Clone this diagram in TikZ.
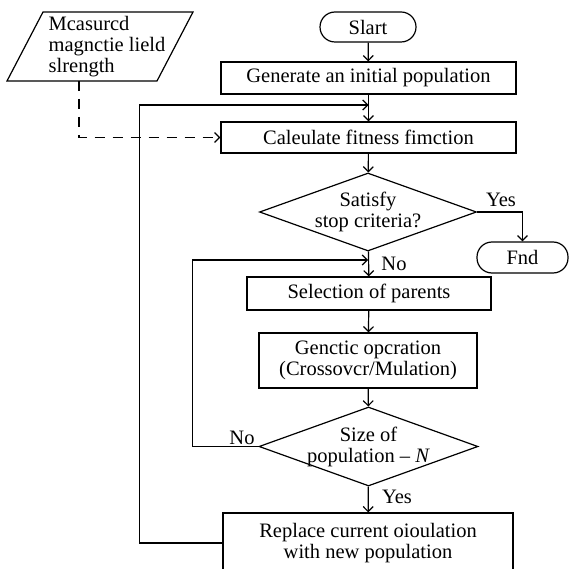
\documentclass[tikz,border=0pt]{standalone}
\usepackage{fontspec}
\setmainfont{Liberation Serif}
\usetikzlibrary{shapes.geometric,arrows.meta}

\begin{document}
\begin{tikzpicture}[x=1pt,y=-1pt,line width=1.2pt,
        font=\fontsize{20.5}{21}\selectfont,
        >={Straight Barb[length=5pt,width=10pt]},
        proc/.style={draw, rectangle, inner sep=0pt, align=center},
        term/.style={draw, rectangle, rounded corners=15pt, inner sep=0pt},
        dec/.style={draw, diamond, aspect=2.77, inner sep=-3pt, align=center},
        dashline/.style={dash pattern=on 10pt off 8pt}]
        % Picture frame (bottom box is cut off)
        \clip (0,0) rectangle (569,569);
        
        % Input (parallelogram)
        \coordinate (p1) at (43,12);
        \coordinate (p2) at (193,12);
        \coordinate (p3) at (157,81);
        \coordinate (p4) at (7,81);
        \draw (p1) -- (p2) -- (p3) -- (p4) -- cycle;
        \node[align=left] (meas) at (107,47) {Mcasurcd\\magnctie lield\\slrength};
        \coordinate (mtap) at (79,81);
        
        % Main column
        \node[term, minimum width=96pt, minimum height=30pt] (start) at (368,27) {Slart};
        \node[proc, minimum width=295pt, minimum height=32pt] (gen) at (368.5,78) {Generate an initial population};
        \node[proc, minimum width=295pt, minimum height=31pt] (calc) at (368.5,137.5) {Caleulate fitness fimction};
        \node[dec, minimum width=217pt, minimum height=78pt] (stop) at (368,212) {Satisfy\\stop criteria?};
        \node[term, minimum width=91pt, minimum height=31pt] (end) at (522.5,257.5) {Fnd};
        \node[proc, minimum width=244pt, minimum height=33pt] (sel) at (369,293.5) {Selection of parents};
        \node[proc, minimum width=218pt, minimum height=55pt] (gop) at (368,360.5) {Genctic opcration\\(Crossovcr/Mulation)};
        \node[dec, minimum width=219pt, minimum height=79pt] (size) at (368.5,446.5) {Size of\\population -- \textit{N}};
        \node[proc, minimum width=290pt, minimum height=60pt] (rep) at (368,543) {Replace current oioulation\\with new population};
        
        % Junctions on the main line
        \coordinate (j1) at (368.5,105);
        \coordinate (j2) at (368,260);
        
        % Main flow
        \draw[->] (start) -- (gen);
        \draw[->] (gen) -- (calc);
        \draw[->] (calc) -- (stop);
        \draw[->] (stop) -- (sel);
        \draw[->] (sel) -- (gop);
        \draw[->] (gop) -- (size);
        \draw[->] (size) -- (rep);
        \draw[->] (stop.east) -| (end.north);
        
        % Loops back
        \draw[->] (size.west) -- ++(-66,0) |- (j2);
        \draw[->] (rep.west) -- ++(-83,0) |- (j1);
        \draw[dashline,->] (mtap) |- (calc.west);
        
        % Labels
        \node at (501,200) {Yes};
        \node at (394,264) {No};
        \node at (242,438) {No};
        \node at (397,497) {Yes};
    \end{tikzpicture}
\end{document}
